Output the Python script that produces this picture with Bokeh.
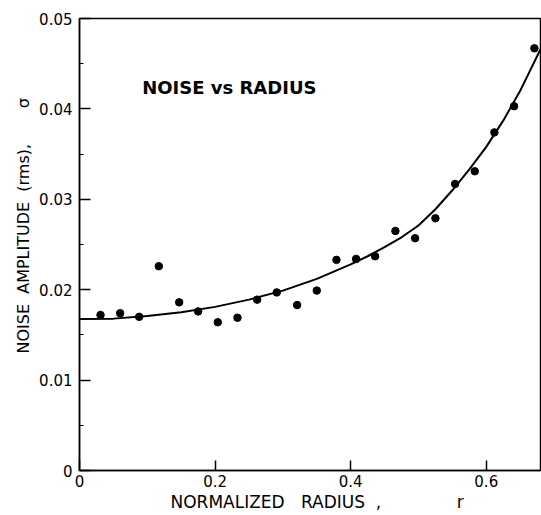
from bokeh.plotting import figure
from bokeh.models import Label, FixedTicker, Range1d, Title
from bokeh.embed import file_html
from bokeh.resources import INLINE

# observed noise points
r_obs = [0.031, 0.060, 0.088, 0.117, 0.147, 0.175, 0.204, 0.233, 0.262, 0.291,
         0.321, 0.350, 0.379, 0.408, 0.436, 0.466, 0.495, 0.525, 0.554, 0.583,
         0.612, 0.641, 0.671]
sigma_obs = [0.0172, 0.0174, 0.0170, 0.0226, 0.0186, 0.0176, 0.0164, 0.0169, 0.0189, 0.0197,
             0.0183, 0.0199, 0.0233, 0.0234, 0.0237, 0.0265, 0.0257, 0.0279, 0.0317, 0.0331,
             0.0374, 0.0403, 0.0467]

# fitted curve
r_fit = [0.0, 0.05, 0.10, 0.15, 0.20, 0.25, 0.30, 0.35, 0.40, 0.425, 0.45, 0.475, 0.50, 0.525,
         0.55, 0.575, 0.60, 0.625, 0.65, 0.68]
sigma_fit = [0.01675, 0.0168, 0.0171, 0.0175, 0.0181, 0.0189, 0.0199, 0.0212, 0.0228, 0.0237,
             0.0247, 0.0258, 0.0271, 0.0289, 0.0310, 0.0333, 0.0358, 0.0387, 0.0420, 0.0466]

x_ticks = [0.0, 0.2, 0.4, 0.6]
x_tick_labels = ["0", "0.2", "0.4", "0.6"]
y_ticks = [0.0, 0.01, 0.02, 0.03, 0.04, 0.05]
y_tick_labels = ["0", "0.01", "0.02", "0.03", "0.04", "0.05"]

NB = "\u00a0"
title_text = "NOISE vs RADIUS"
x_label_text = "NORMALIZED" + NB * 3 + "RADIUS" + NB * 2 + "," + NB * 14 + "r"
y_label_text = "NOISE" + NB * 2 + "AMPLITUDE" + NB * 2 + "(rms)," + NB * 7 + "\u03c3"

FONT = "DejaVu Sans"

p = figure(width=541, height=515, output_backend="svg", toolbar_location=None,
           x_range=Range1d(0, 0.68), y_range=Range1d(0, 0.05),
           min_border_left=79, min_border_right=1, min_border_top=18, min_border_bottom=45)
p.background_fill_color = "white"
p.border_fill_color = "white"
p.outline_line_color = "black"
p.outline_line_width = 1.5
p.xgrid.visible = False
p.ygrid.visible = False

p.line(r_fit, sigma_fit, line_color="black", line_width=2)
p.scatter(r_obs, sigma_obs, size=7.5, marker="circle", fill_color="black", line_color="black")

# axes
p.xaxis.ticker = FixedTicker(ticks=x_ticks)
p.xaxis.major_label_overrides = {t: s for t, s in zip(x_ticks, x_tick_labels)}
y_minor = [(a + b) / 2 for a, b in zip(y_ticks[:-1], y_ticks[1:])]
p.yaxis.ticker = FixedTicker(ticks=y_ticks, minor_ticks=y_minor)
p.yaxis.major_label_overrides = {t: s for t, s in zip(y_ticks, y_tick_labels)}

for ax in (p.xaxis[0], p.yaxis[0]):
    ax.axis_line_color = "black"
    ax.axis_line_width = 1.5
    ax.major_tick_line_color = "black"
    ax.major_tick_line_width = 1.5
    ax.major_tick_out = 0
    ax.major_label_text_font = FONT
    ax.major_label_text_font_size = "15px"
    ax.major_label_text_color = "black"

p.xaxis.major_tick_in = 10
p.xaxis.minor_tick_line_color = None
p.xaxis.major_label_standoff = 4
p.yaxis.major_tick_in = 11
p.yaxis.minor_tick_in = 4
p.yaxis.minor_tick_out = 0
p.yaxis.minor_tick_line_color = "black"
p.yaxis.minor_tick_line_width = 1.2
p.yaxis.major_label_standoff = 7

# axis titles as side titles
p.add_layout(Title(text=x_label_text, align="left", offset=91, text_font=FONT,
                   text_font_size="17px", text_font_style="normal", text_color="black",
                   standoff=0), "below")
p.add_layout(Title(text=y_label_text, align="left", offset=117, text_font=FONT,
                   text_font_size="16px", text_font_style="normal", text_color="black",
                   standoff=8), "left")

# chart title inside the frame
p.add_layout(Label(x=0.0925, y=0.0424, text=title_text, text_font=FONT,
                   text_font_size="18px", text_font_style="bold", text_color="black",
                   text_baseline="alphabetic", text_align="left"))

open("out.html", "w").write(file_html(p, INLINE))
